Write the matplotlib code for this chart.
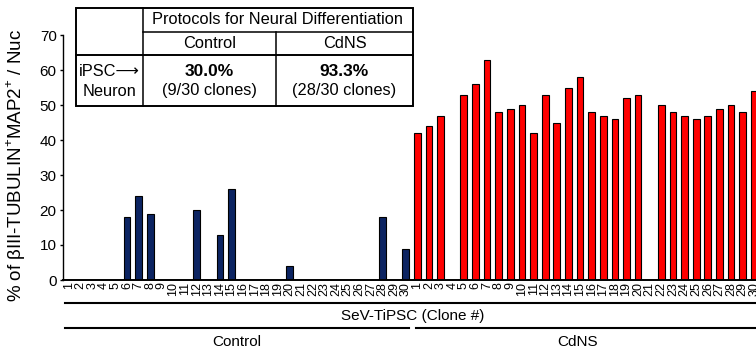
import matplotlib
matplotlib.use("Agg")
import matplotlib.pyplot as plt
import numpy as np
from matplotlib.lines import Line2D
from matplotlib.patches import Rectangle

plt.rcParams['font.family'] = ['Liberation Sans', 'DejaVu Sans']
plt.rcParams['mathtext.fontset'] = 'custom'
plt.rcParams['mathtext.rm'] = 'Liberation Sans'

# ---- data ----
clones = [str(i) for i in range(1, 31)]
control_vals = [0, 0, 0, 0, 0, 18, 24, 19, 0, 0, 0, 20, 0, 13, 26, 0, 0, 0, 0, 4,
                0, 0, 0, 0, 0, 0, 0, 18, 0, 9]
cdns_vals = [42, 44, 47, 0, 53, 56, 63, 48, 49, 50, 42, 53, 45, 55, 58, 48, 47, 46, 52, 53,
             0, 50, 48, 47, 46, 47, 49, 50, 48, 54]
yticks = [0, 10, 20, 30, 40, 50, 60, 70]
group_names = ["Control", "CdNS"]
table_header = "Protocols for Neural Differentiation"
row_label = ["iPSC\u27f6", "Neuron"]
pct = ["30.0%", "93.3%"]
counts = ["(9/30 clones)", "(28/30 clones)"]

navy = "#0c2462"
red = "#ff0000"

W, H = 756, 350
fig = plt.figure(figsize=(W / 100, H / 100), dpi=100)

def fx(x):
    return x / W

def fy(y):
    return 1 - y / H

ax_left, ax_right = 63, 765.9
ax = fig.add_axes([fx(ax_left), 70 / H, (ax_right - ax_left) / W, 245 / H])

n = len(clones)
pos_c = np.arange(1, n + 1)
pos_d = np.arange(n + 1, 2 * n + 1)
ax.bar(pos_c, control_vals, width=0.58, color=navy, edgecolor="black", linewidth=0.8)
ax.bar(pos_d, cdns_vals, width=0.58, color=red, edgecolor="black", linewidth=0.8)

ax.set_xlim(0.492, 2 * n + 1)
ax.set_ylim(0, 70)
ax.set_yticks(yticks)
ax.set_yticklabels([str(v) for v in yticks], fontsize=11)
ax.set_xticks(np.concatenate([pos_c, pos_d]))
ax.set_xticklabels(clones + clones, rotation=90, fontsize=9)
ax.tick_params(axis='x', length=0, pad=1.5)
ax.tick_params(axis='y', direction='out', length=2.5, width=1.0, pad=2)
for s in ["top", "right"]:
    ax.spines[s].set_visible(False)
ax.spines["left"].set_linewidth(1.0)
ax.spines["bottom"].set_linewidth(1.4)

fig.text(fx(16), fy(165), r"% of βIII-TUBULIN$^{\mathregular{+}}$MAP2$^{\mathregular{+}}$ / Nuc",
         rotation=90, ha="center", va="center", fontsize=13.5)

# ---- group lines / labels below axis ----
def hline(x0, x1, y, lw=1.5):
    fig.add_artist(Line2D([fx(x0), fx(x1)], [fy(y), fy(y)], color="black", lw=lw,
                          transform=fig.transFigure))

hline(65, 760, 303.3)
hline(65, 409, 328.3)
hline(416, 760, 328.3)
fig.text(fx(413), fy(316), "SeV-TiPSC (Clone #)", ha="center", va="center", fontsize=11)
fig.text(fx(237), fy(342), group_names[0], ha="center", va="center", fontsize=11)
fig.text(fx(578), fy(342), group_names[1], ha="center", va="center", fontsize=11)

# ---- table ----
tl, tr, tt, tb = 76, 413, 7.5, 106
c1, c2 = 142.5, 276
r1, r2 = 32, 55
fig.add_artist(Rectangle((fx(tl), fy(tb)), fx(tr) - fx(tl), fy(tt) - fy(tb),
                         facecolor="white", edgecolor="black", lw=1.4,
                         transform=fig.transFigure, zorder=3))

def seg(x0, y0, x1, y1, lw=1.1):
    fig.add_artist(Line2D([fx(x0), fx(x1)], [fy(y0), fy(y1)], color="black", lw=lw,
                          transform=fig.transFigure, zorder=4))

seg(c1, tt, c1, tb)
seg(c2, r1, c2, tb)
seg(c1, r1, tr, r1)
seg(tl, r2, tr, r2, lw=1.4)

def t(x, y, s, **kw):
    fig.text(fx(x), fy(y), s, ha="center", va="center", zorder=5, **kw)

t((c1 + tr) / 2, 20, table_header, fontsize=11.8)
t((c1 + c2) / 2, 43.5, group_names[0], fontsize=11.8)
t((c2 + tr) / 2, 43.5, group_names[1], fontsize=11.8)
t((tl + c1) / 2, 71.5, row_label[0], fontsize=11.8)
t((tl + c1) / 2, 91, row_label[1], fontsize=11.8)
t((c1 + c2) / 2, 71, pct[0], fontsize=12.5, fontweight="bold")
t((c2 + tr) / 2, 71, pct[1], fontsize=12.5, fontweight="bold")
t((c1 + c2) / 2, 91, counts[0], fontsize=11.8)
t((c2 + tr) / 2, 91, counts[1], fontsize=11.8)

fig.savefig("out.png", dpi=100)
